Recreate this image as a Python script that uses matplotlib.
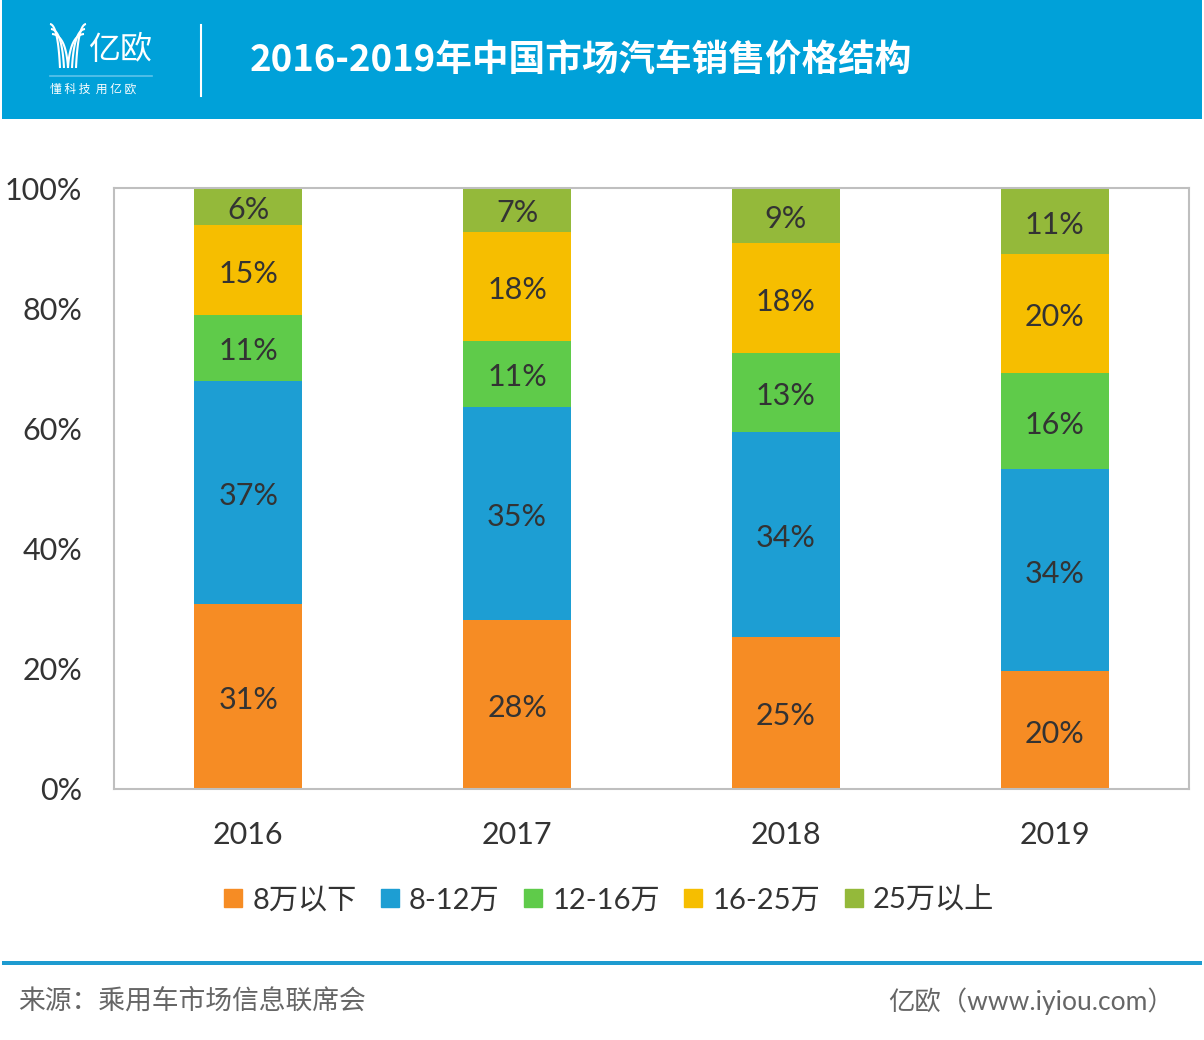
import numpy as np
import matplotlib
matplotlib.use('Agg')
import matplotlib.pyplot as plt
import matplotlib.transforms as mtransforms
from matplotlib.lines import Line2D
from matplotlib.patches import Rectangle

plt.rcParams['font.family'] = ['Noto Sans CJK SC', 'DejaVu Sans']
thin = ['Lato', 'Noto Sans CJK SC', 'DejaVu Sans']

# data (share of sales, %)
years = ['2016', '2017', '2018', '2019']
series = ['8万以下', '8-12万', '12-16万', '16-25万', '25万以上']
under8 = [30.8, 28.1, 25.3, 19.6]
p8_12 = [37.1, 35.4, 34.1, 33.6]
p12_16 = [11.0, 11.1, 13.1, 16.0]
p16_25 = [14.9, 18.1, 18.3, 19.8]
over25 = [6.2, 7.3, 9.2, 11.0]
colors = ['#f68c24', '#1d9ed3', '#5fcb4a', '#f6be00', '#94b93a']
ytick_vals = [0, 20, 40, 60, 80, 100]

title = '2016-2019年中国市场汽车销售价格结构'
source = '来源：乘用车市场信息联席会'
site = '亿欧（www.iyiou.com）'

W, H = 1204, 1040
fig = plt.figure(figsize=(W / 100, H / 100), dpi=100)
fig.patch.set_facecolor('white')

# header / footer drawn on a full-figure overlay in pixel coords
bg = fig.add_axes([0, 0, 1, 1])
bg.set_xlim(0, W)
bg.set_ylim(H, 0)
bg.axis('off')
bg.add_patch(Rectangle((2, 0), W - 4, 119, color='#00a1d9', lw=0))
bg.add_patch(Rectangle((2, 961), W - 4, 3.5, color='#1e9bd0', lw=0))
# logo: stylised Y, three strands per side bending into a stem
t = np.linspace(0, 1, 40)
for k in range(3):
    y0 = 24 + k * 5
    xs = (1 - t) ** 2 * 50 + 2 * (1 - t) * t * (58 + k * 3) + t ** 2 * (60 + k * 3)
    ys = (1 - t) ** 2 * y0 + 2 * (1 - t) * t * (y0 + 1) + t ** 2 * 68
    bg.plot(xs + k * 1, ys, color='white', lw=1.5, solid_capstyle='butt')
    xs = (1 - t) ** 2 * 86 + 2 * (1 - t) * t * (78 - k * 3) + t ** 2 * (76 - k * 3)
    bg.plot(xs - k * 1, ys, color='white', lw=1.5, solid_capstyle='butt')
bg.text(88, 50, '亿欧', color='white', fontsize=23, va='center', ha='left')
bg.plot([50, 152], [75.5, 75.5], color='#5cc3ea', lw=1.2)
bg.text(50, 89.5, '懂 科 技  用 亿 欧', color='white', fontsize=8.5, va='center', ha='left')
bg.plot([201, 201], [25, 96], color='white', lw=1.5)
bg.text(250, 60, title, color='white', fontsize=26.4, fontweight='bold', va='center', ha='left')
bg.text(18, 1001, source, color='#666666', fontsize=19.3, va='center', ha='left', family=thin)
bg.text(1174, 1001, site, color='#666666', fontsize=19, va='center', ha='right', family=thin)

# chart
ax = fig.add_axes([114 / W, 1 - 789 / H, 1075 / W, 601 / H])
lbl_trans = mtransforms.offset_copy(ax.transData, fig=fig, y=-2.5, units='points')
x = np.arange(len(years))
bottom = np.zeros(len(years))
handles = []
for name, vals, c in zip(series, [under8, p8_12, p12_16, p16_25, over25], colors):
    vals = np.array(vals)
    ax.bar(x, vals, width=0.402, bottom=bottom, color=c, lw=0, zorder=2)
    for xi, b, v in zip(x, bottom, vals):
        ax.text(xi, b + v / 2, f'{v:.0f}%', ha='center', va='center', transform=lbl_trans,
                fontsize=22, color='#333333', family=thin)
    bottom += vals
    handles.append(Line2D([], [], marker='s', ls='', markersize=13, color=c, label=name))

ax.set_xlim(-0.5, len(years) - 0.5)
ax.set_ylim(0, 100)
ax.set_xticks(x)
ax.set_xticklabels(years)
ax.set_yticks(ytick_vals)
ax.set_yticklabels([f'{v}%' for v in ytick_vals])
ax.tick_params(length=0, labelsize=22, labelcolor='#333333')
ax.tick_params(axis='y', pad=23)
ax.tick_params(axis='x', pad=23)
for lab in ax.get_xticklabels() + ax.get_yticklabels():
    lab.set_family(thin)
for s in ax.spines.values():
    s.set_color('#bfbfbf')
    s.set_linewidth(1.5)

fig.legend(handles=handles, loc='center', bbox_to_anchor=(607 / W, 1 - 900 / H), ncol=5,
           frameon=False, handletextpad=0.2, columnspacing=0.7, handlelength=0.9,
           prop={'family': thin, 'size': 21}, labelcolor='#333333')

fig.savefig('out.png', dpi=100)
